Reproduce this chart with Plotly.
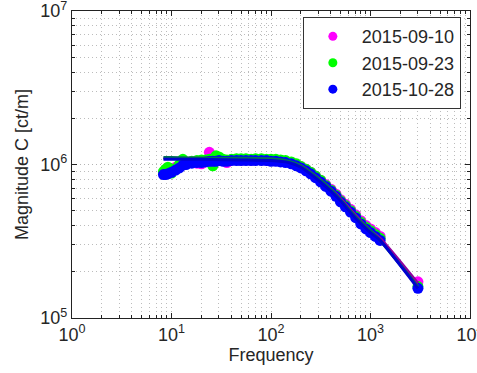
import plotly.graph_objects as go

# Measured frequencies (Hz)
freq = [8.3, 8.7, 9.2, 10, 11, 12, 13, 14, 16, 18, 20, 22, 24, 26, 28, 30, 33, 36, 40, 45,
        50, 56, 63, 70, 80, 90, 100, 112, 125, 140, 160, 180, 200, 225, 250, 280, 315, 355,
        400, 450, 500, 560, 630, 710, 800, 900, 1000, 1120, 1250, 3000]

# Measured magnitudes (ct/m) per date
mag_0910 = [0.88e6, 0.89e6, 0.92e6, 0.93e6, 0.96e6, 0.98e6, 1.00e6, 1.02e6, 1.03e6, 1.02e6,
            1.01e6, 1.06e6, 1.20e6, 1.10e6, 1.08e6, 1.07e6, 1.06e6, 1.03e6, 1.07e6, 1.08e6,
            1.07e6, 1.08e6, 1.07e6, 1.08e6, 1.08e6, 1.07e6, 1.07e6, 1.07e6, 1.06e6, 1.05e6,
            1.03e6, 1.00e6, 0.97e6, 0.93e6, 0.89e6, 0.84e6, 0.79e6, 0.74e6, 0.69e6, 0.64e6,
            0.59e6, 0.55e6, 0.51e6, 0.47e6, 0.43e6, 0.40e6, 0.38e6, 0.36e6, 0.34e6, 1.72e5]
mag_0923 = [0.90e6, 0.93e6, 0.96e6, 0.88e6, 0.94e6, 1.00e6, 1.08e6, 1.04e6, 1.05e6, 1.06e6,
            1.07e6, 1.07e6, 1.08e6, 0.98e6, 1.14e6, 1.12e6, 1.08e6, 1.07e6, 1.08e6, 1.09e6,
            1.09e6, 1.09e6, 1.08e6, 1.09e6, 1.09e6, 1.08e6, 1.08e6, 1.08e6, 1.07e6, 1.06e6,
            1.04e6, 1.01e6, 0.97e6, 0.93e6, 0.89e6, 0.84e6, 0.79e6, 0.73e6, 0.68e6, 0.63e6,
            0.58e6, 0.54e6, 0.50e6, 0.46e6, 0.42e6, 0.39e6, 0.37e6, 0.35e6, 0.33e6, 1.60e5]
mag_1028 = [0.86e6, 0.86e6, 0.87e6, 0.89e6, 0.92e6, 0.95e6, 0.99e6, 1.00e6, 1.02e6, 1.03e6,
            1.03e6, 1.04e6, 1.05e6, 1.05e6, 1.05e6, 1.06e6, 1.05e6, 1.05e6, 1.06e6, 1.06e6,
            1.06e6, 1.06e6, 1.06e6, 1.06e6, 1.06e6, 1.06e6, 1.05e6, 1.05e6, 1.04e6, 1.03e6,
            1.01e6, 0.98e6, 0.95e6, 0.91e6, 0.87e6, 0.82e6, 0.77e6, 0.72e6, 0.67e6, 0.62e6,
            0.57e6, 0.53e6, 0.49e6, 0.45e6, 0.41e6, 0.38e6, 0.36e6, 0.34e6, 0.32e6, 1.56e5]

# Fitted response curves
fit_freq = [8.3, 10, 20, 50, 100, 150, 200, 300, 400, 500, 700, 1000, 1250, 3000]
fit_0910 = [1.10e6, 1.10e6, 1.10e6, 1.09e6, 1.08e6, 1.04e6, 0.98e6, 0.81e6, 0.69e6, 0.60e6,
            0.47e6, 0.37e6, 0.33e6, 1.68e5]
fit_0923 = [1.11e6, 1.11e6, 1.10e6, 1.10e6, 1.09e6, 1.05e6, 0.98e6, 0.81e6, 0.69e6, 0.59e6,
            0.46e6, 0.37e6, 0.32e6, 1.60e5]
fit_1028 = [1.08e6, 1.08e6, 1.08e6, 1.07e6, 1.06e6, 1.03e6, 0.96e6, 0.79e6, 0.67e6, 0.58e6,
            0.45e6, 0.36e6, 0.32e6, 1.56e5]

labels = ["2015-09-10", "2015-09-23", "2015-10-28"]
colors = ["#ff00ff", "#00ff00", "#0000ff"]
fit_colors = ["#9000a0", "#00705a", "#0000d0"]

x_ticks = [1, 10, 100, 1000, 10000]
x_ticktext = ["10<sup>0</sup>", "10<sup>1</sup>", "10<sup>2</sup>", "10<sup>3</sup>", "10<sup>4</sup>"]
y_ticks = [1e5, 1e6, 1e7]
y_ticktext = ["10<sup>5</sup>", "10<sup>6</sup>", "10<sup>7</sup>"]

FONT = "Liberation Sans"
TXT = "#262626"

fig = go.Figure()
for lab, col, mags in zip(labels, colors, [mag_0910, mag_0923, mag_1028]):
    fig.add_trace(go.Scatter(x=freq, y=mags, mode="markers", name=lab, showlegend=False,
                             marker=dict(color=col, size=11, line=dict(width=0))))
for col, fits in zip(fit_colors, [fit_0910, fit_0923, fit_1028]):
    fig.add_trace(go.Scatter(x=fit_freq, y=fits, mode="lines", showlegend=False,
                             line=dict(color=col, width=3, shape="spline", smoothing=0.6)))
# legend entries (marker only)
for lab, col in zip(labels, colors):
    fig.add_trace(go.Scatter(x=[None], y=[None], mode="markers", name=lab,
                             marker=dict(color=col, size=9, line=dict(width=0))))

axis_common = dict(type="log", showline=True, linecolor="#222222", linewidth=1.3,
                   mirror="allticks", ticks="inside", ticklen=5, tickcolor="#222222",
                   zeroline=False, ticklabeloverflow="allow", automargin=False,
                   showgrid=True, gridcolor="#b4b4b4", griddash="1px,3px", gridwidth=1,
                   tickfont=dict(family=FONT, size=18, color=TXT),
                   minor=dict(ticks="inside", ticklen=3, tickcolor="#222222", dtick="D1",
                              showgrid=True, gridcolor="#bcbcbc", griddash="1px,3px", gridwidth=1))

fig.update_layout(
    width=477, height=373,
    margin=dict(l=72, r=7, t=11, b=55, autoexpand=False),
    paper_bgcolor="white", plot_bgcolor="white",
    font=dict(family=FONT, size=18, color=TXT),
    xaxis=dict(range=[-0.0005, 4.0005], tickvals=x_ticks, ticktext=x_ticktext,
               title=dict(text="Frequency", standoff=2, font=dict(family=FONT, size=18, color=TXT)),
               **axis_common),
    yaxis=dict(range=[4.9995, 7.0005], tickvals=y_ticks, ticktext=y_ticktext,
               title=dict(text="Magnitude C [ct/m]", standoff=6, font=dict(family=FONT, size=18, color=TXT)),
               **axis_common),
    legend=dict(x=0.977, y=0.98, xanchor="right", yanchor="top",
                bgcolor="white", bordercolor="#333333", borderwidth=1,
                font=dict(family=FONT, size=18, color=TXT),
                itemsizing="trace", itemwidth=48, tracegroupgap=0),
)

fig.write_html("out.html")
